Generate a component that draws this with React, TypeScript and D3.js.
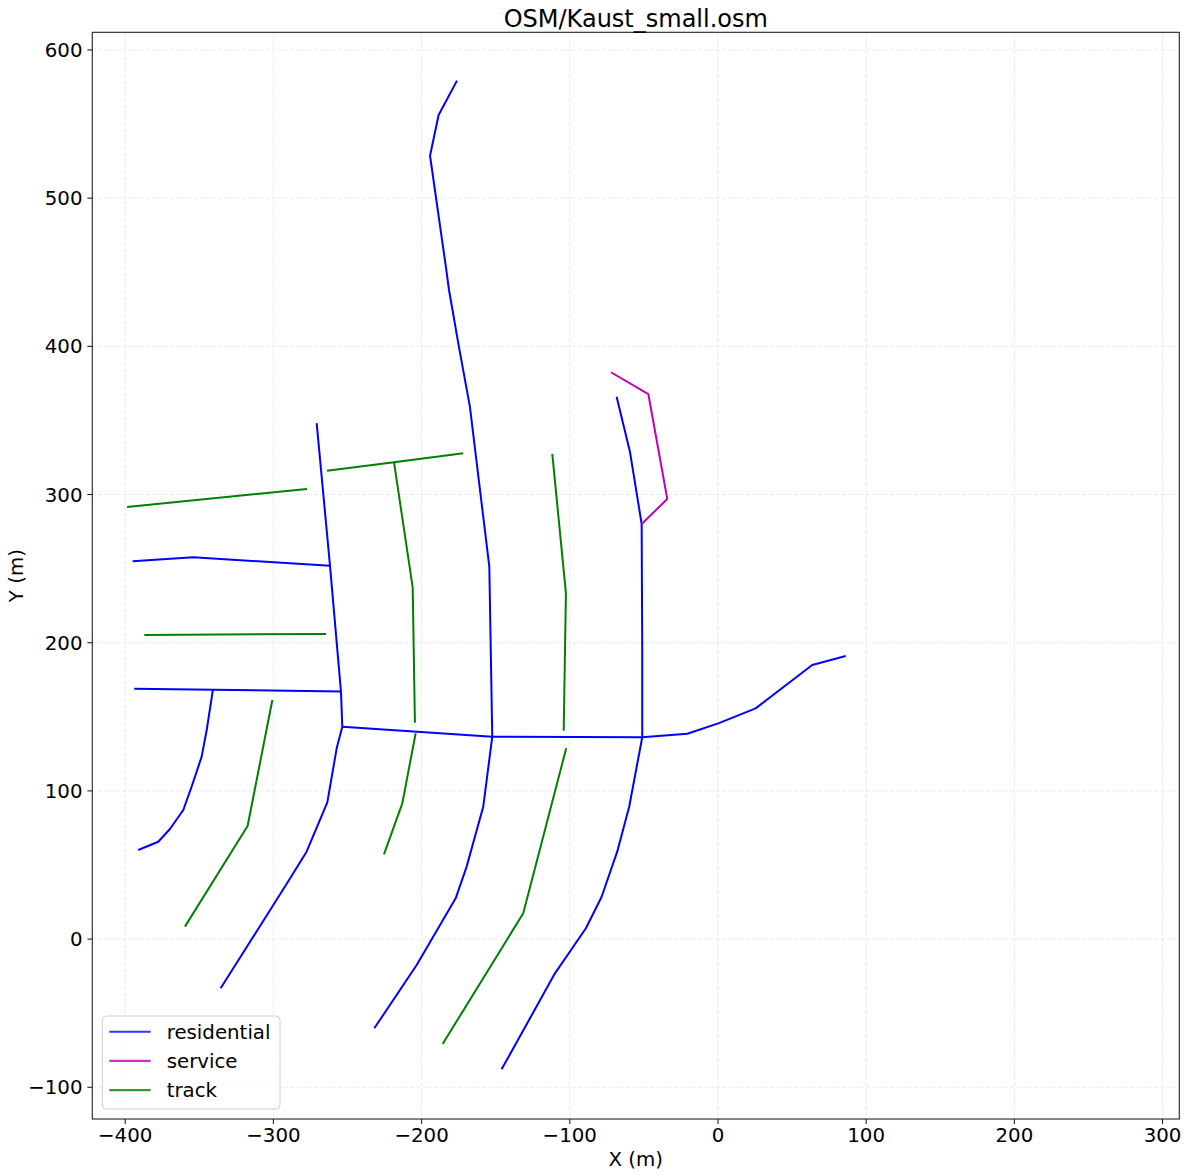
import * as d3 from 'd3';

type Pt = [number, number];

// ways, in metres
const residentialWays: Pt[][] = [
  [[-176.1, 579.3], [-188.5, 556.1], [-194.3, 528.6], [-183.5, 452.9], [-181.5, 438.0], [-174.8, 399.6], [-167.4, 359.3], [-154.3, 251.3], [-152.3, 136.6]],
  [[-270.8, 348.2], [-261.8, 252.0], [-254.4, 167.0], [-253.5, 143.3]],
  [[-253.5, 143.3], [-257.3, 128.7], [-263.6, 92.3], [-277.6, 59.0], [-291.1, 37.2], [-335.6, -33.2]],
  [[-395.0, 254.9], [-354.1, 257.6], [-261.8, 252.0]],
  [[-393.9, 169.0], [-340.8, 168.3], [-254.4, 167.0]],
  [[-340.8, 168.3], [-345.0, 141.1], [-348.4, 123.1], [-355.2, 102.8], [-360.8, 87.1], [-369.8, 74.3], [-377.7, 65.7], [-391.2, 60.1]],
  [[-253.5, 143.3], [-152.3, 136.6], [-51.1, 136.2], [-20.7, 138.6], [0.2, 145.6], [25.4, 155.7], [63.6, 185.0], [86.2, 191.0]],
  [[-152.3, 136.6], [-158.4, 89.3], [-169.6, 48.9], [-177.0, 27.5], [-203.3, -17.5], [-231.9, -60.2]],
  [[-51.1, 136.2], [-59.9, 89.3], [-68.0, 59.0], [-78.5, 28.6], [-89.1, 7.3], [-110.0, -23.1], [-146.0, -87.9]],
  [[-51.1, 136.2], [-51.1, 195.1], [-51.5, 280.1], [-59.4, 328.9], [-68.4, 366.0]],
];

const serviceWays: Pt[][] = [
  [[-72.2, 382.5], [-47.0, 367.8], [-34.2, 297.0], [-51.5, 280.1]],
];

const trackWays: Pt[][] = [
  [[-398.8, 291.6], [-277.3, 303.7]],
  [[-263.8, 316.1], [-218.6, 321.7], [-171.9, 327.8]],
  [[-218.6, 321.7], [-206.0, 237.4], [-204.5, 146.0]],
  [[-387.1, 205.2], [-264.5, 205.9]],
  [[-300.7, 161.3], [-317.4, 76.3], [-359.7, 8.4]],
  [[-204.0, 138.9], [-213.0, 91.6], [-225.4, 57.2]],
  [[-111.8, 327.4], [-102.6, 233.4], [-104.1, 140.6]],
  [[-102.4, 128.8], [-131.4, 17.4], [-185.8, -70.8]],
];

const xTicks = [-400, -300, -200, -100, 0, 100, 200, 300];
const yTicks = [-100, 0, 100, 200, 300, 400, 500, 600];

const layers = [
  { name: 'residential', color: '#0000ff', ways: residentialWays },
  { name: 'service', color: '#bf00bf', ways: serviceWays },
  { name: 'track', color: '#008000', ways: trackWays },
];

const W = 1190;
const H = 1175;
const left = 92.3;
const right = 1179.3;
const top = 32.3;
const bottom = 1119;
const font = '"DejaVu Sans", sans-serif';

export default function App() {
  const x = d3.scaleLinear().domain([-422.2, 311.3]).range([left, right]);
  const y = d3.scaleLinear().domain([-121.4, 611.9]).range([bottom, top]);
  const line = d3.line<Pt>().x(d => x(d[0])).y(d => y(d[1]));

  return (
    <svg width={W} height={H} style={{ position: 'absolute', left: 0, top: 0, background: '#fff' }}>
      {/* grid */}
      <g stroke="#b0b0b0" strokeOpacity={0.35} strokeWidth={0.8} strokeDasharray="4,2">
        {xTicks.map(t => (
          <line key={'gx' + t} x1={x(t)} x2={x(t)} y1={top} y2={bottom} />
        ))}
        {yTicks.map(t => (
          <line key={'gy' + t} x1={left} x2={right} y1={y(t)} y2={y(t)} />
        ))}
      </g>

      {/* roads */}
      {layers.map(l => (
        <g key={l.name} fill="none" stroke={l.color} strokeWidth={2} strokeLinejoin="round">
          {l.ways.map((w, i) => (
            <path key={i} d={line(w) || ''} />
          ))}
        </g>
      ))}

      {/* frame */}
      <rect x={left} y={top} width={right - left} height={bottom - top} fill="none" stroke="#222" strokeWidth={1.1} />

      {/* axes */}
      <g fontFamily={font} fontSize={19.8} fill="#000">
        {xTicks.map(t => (
          <g key={'xt' + t}>
            <line x1={x(t)} x2={x(t)} y1={bottom} y2={bottom + 4.9} stroke="#222" strokeWidth={1.1} />
            <text x={x(t)} y={bottom + 22.7} textAnchor="middle">
              {t < 0 ? '\u2212' + Math.abs(t) : String(t)}
            </text>
          </g>
        ))}
        {yTicks.map(t => (
          <g key={'yt' + t}>
            <line x1={left - 4.9} x2={left} y1={y(t)} y2={y(t)} stroke="#222" strokeWidth={1.1} />
            <text x={left - 9.8} y={y(t) + 7.1} textAnchor="end">
              {t < 0 ? '\u2212' + Math.abs(t) : String(t)}
            </text>
          </g>
        ))}
        <text x={(left + right) / 2} y={1165.7} textAnchor="middle">X (m)</text>
        <text
          transform={`translate(22.7, ${(top + bottom) / 2}) rotate(-90)`}
          textAnchor="middle"
        >
          Y (m)
        </text>
      </g>

      {/* title */}
      <text x={(left + right) / 2} y={26.7} textAnchor="middle" fontFamily={font} fontSize={24}>
        OSM/Kaust_small.osm
      </text>

      {/* legend */}
      <g fontFamily={font} fontSize={19.8}>
        <rect x={102.3} y={1016} width={177.7} height={93} rx={4} fill="#fff" fillOpacity={0.8} stroke="#d0d0d0" strokeWidth={1} />
        {layers.map((l, i) => {
          const ly = 1031.7 + i * 29.2;
          return (
            <g key={'lg' + l.name}>
              <line x1={109.3} x2={150.7} y1={ly} y2={ly} stroke={l.color} strokeWidth={2.1} strokeOpacity={0.8} />
              <text x={166.7} y={ly + 7}>{l.name}</text>
            </g>
          );
        })}
      </g>
    </svg>
  );
}
